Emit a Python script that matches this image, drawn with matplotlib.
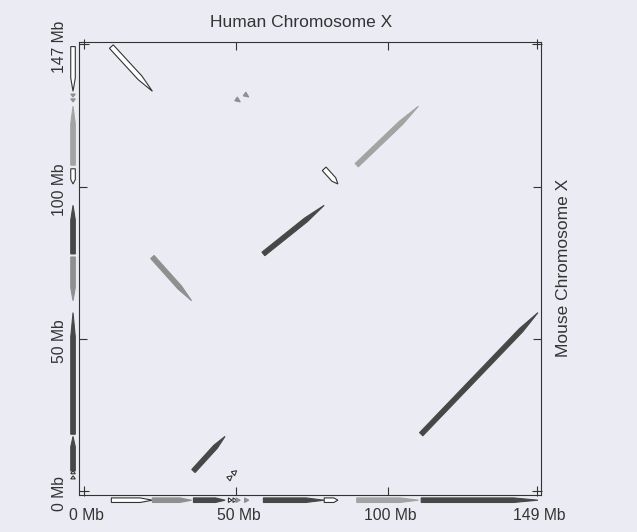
import numpy as np
import matplotlib.pyplot as plt
from matplotlib.patches import Polygon

# Syntenic blocks: human X position (Mb) vs mouse X position (Mb)
human_start = [9.0, 22.5, 36.0, 47.5, 49.0, 50.0, 52.8, 59.0, 79.0, 89.7, 110.9]
human_end = [22.5, 35.4, 46.4, 48.7, 50.2, 51.4, 54.2, 79.0, 83.5, 110.0, 149.3]
mouse_start = [146.2, 77.0, 6.6, 4.0, 5.7, 129.0, 130.6, 78.0, 106.0, 107.2, 18.7]
mouse_end = [131.5, 62.6, 18.0, 5.0, 6.7, 128.0, 129.6, 94.0, 101.0, 126.6, 58.7]
shade = ["white", "mid", "dark", "white", "white", "mid", "mid", "dark", "white", "light", "dark"]

human_len = 149
mouse_len = 147
tick_vals = [50, 100]
human_labels = ["0 Mb", "50 Mb", "100 Mb", "149 Mb"]
mouse_labels = ["0 Mb", "50 Mb", "100 Mb", "147 Mb"]

fill = {"white": "#ffffff", "mid": "#8f8f8f", "light": "#a3a3a3", "dark": "#474747"}
edge = {"white": "#333333", "mid": "#8f8f8f", "light": "#a3a3a3", "dark": "#474747"}
bg = "#ebecf3"
ink = "#333333"


def arrow_poly(x1, y1, x2, y2, w):
    """Bar from (x1,y1) to (x2,y2) with a pointed end at (x2,y2)."""
    p1 = np.array([x1, y1])
    p2 = np.array([x2, y2])
    L = np.hypot(*(p2 - p1))
    u = (p2 - p1) / L
    n = np.array([-u[1], u[0]])
    head = L if L < 3 else min(0.3 * L, 8.0)
    s = p2 - u * head
    pts = [p1 + n * w / 2, s + n * w / 2, p2, s - n * w / 2, p1 - n * w / 2]
    return pts


fig = plt.figure(figsize=(6.37, 5.32), dpi=100, facecolor=bg)
ax = fig.add_axes([0.124, 0.0695, 0.7253, 0.8515], facecolor=bg)
ax.set_xlim(-1.64, 150.3)
ax.set_ylim(-1.3, 147.7)

track_y = -3.0
track_x = -3.6
for i in range(len(human_start)):
    fc, ec = fill[shade[i]], edge[shade[i]]
    w = 1.7 if shade[i] == "white" else 1.5
    # dot plot block
    ax.add_patch(Polygon(arrow_poly(human_start[i], mouse_start[i], human_end[i], mouse_end[i], w),
                         closed=True, fc=fc, ec=ec, lw=0.8))
    # human track along the bottom
    ax.add_patch(Polygon(arrow_poly(human_start[i], track_y, human_end[i], track_y, 1.5),
                         closed=True, fc=fc, ec=ec, lw=0.8, clip_on=False))
    # mouse track along the left
    ax.add_patch(Polygon(arrow_poly(track_x, mouse_start[i], track_x, mouse_end[i], 1.5),
                         closed=True, fc=fc, ec=ec, lw=0.8, clip_on=False))

# corner crosses
ax.plot([0, 0, human_len, human_len], [0, mouse_len, mouse_len, 0], "+", ms=7,
        mew=0.8, color=ink, clip_on=False)

ax.set_xticks(tick_vals)
ax.set_yticks(tick_vals)
ax.tick_params(direction="in", length=6, width=0.8, color=ink, top=True, right=True,
               labelbottom=False, labelleft=False)
for sp in ax.spines.values():
    sp.set_color(ink)
    sp.set_linewidth(0.8)

font = "Liberation Sans"
for v, lab in zip([0, 50, 100, human_len], human_labels):
    ax.text(v + 0.8, -7.9, lab, ha="center", va="center", fontsize=11.3,
            family=font, color=ink, clip_on=False)
for v, lab in zip([0, 50, 100, mouse_len], mouse_labels):
    ax.text(-8.2, v - 0.8, lab, ha="center", va="center", fontsize=11.3,
            rotation=90, family=font, color=ink, clip_on=False)

fig.text(0.4725, 0.9586, "Human Chromosome X", ha="center", va="center",
         fontsize=12.5, family=font, color=ink)
fig.text(0.884, 0.496, "Mouse Chromosome X", ha="center", va="center",
         fontsize=12.5, rotation=90, family=font, color=ink)

fig.savefig("out.png", dpi=100, facecolor=bg)
